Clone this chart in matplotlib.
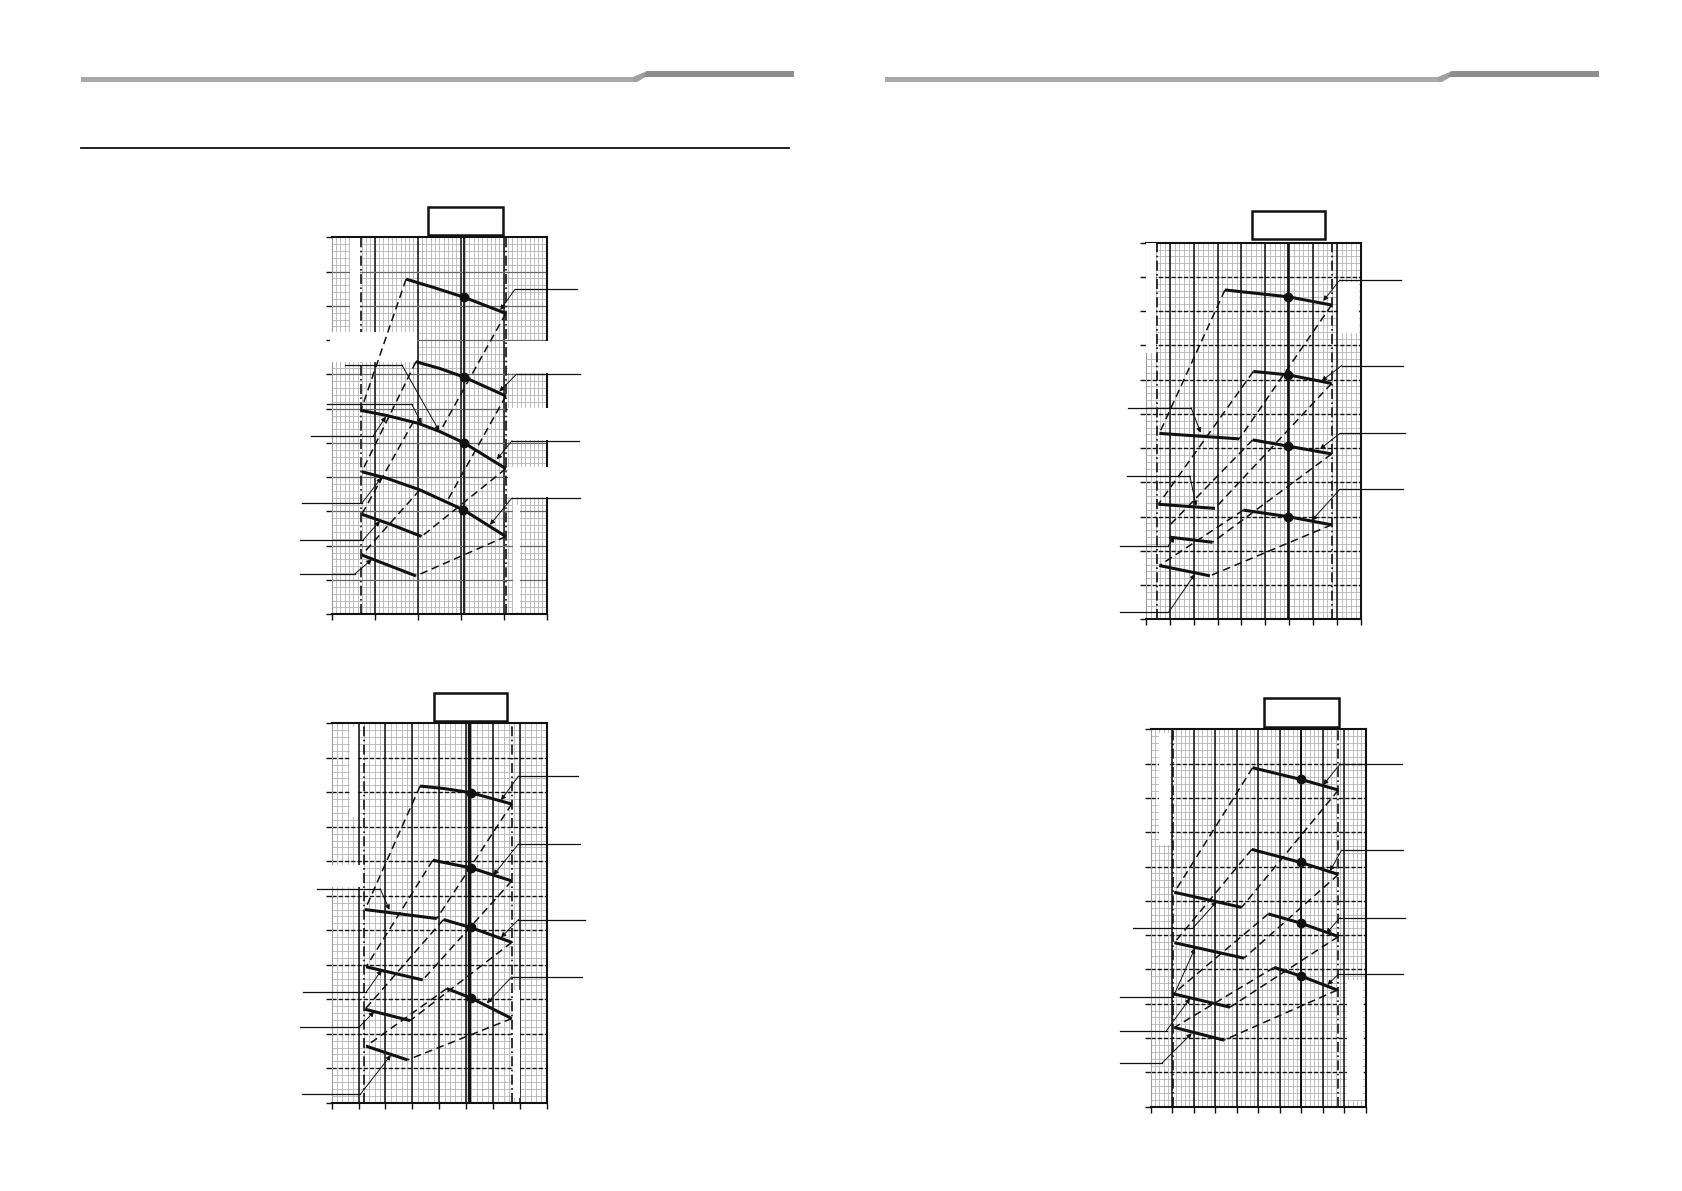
import numpy as np
import matplotlib
matplotlib.use("Agg")
import matplotlib.pyplot as plt
from matplotlib.patches import Rectangle, Polygon

W, H = 1683, 1191

# ---------------- data (grid units: x = major columns, y = major rows) ----------------
# chart 1 (top left)
c1_curves = [
    ([1.73, 2.36, 3.08, 4.05], [9.78, 9.54, 9.25, 8.78]),
    ([1.96, 2.52, 3.08, 4.05], [7.37, 7.17, 6.92, 6.37]),
    ([0.68, 1.28, 2.02, 2.52, 3.08, 4.05], [5.95, 5.80, 5.57, 5.33, 5.00, 4.25]),
    ([0.70, 1.28, 2.05, 3.06, 4.05], [4.16, 3.97, 3.63, 3.05, 2.27]),
    ([0.70, 1.36, 2.09], [2.92, 2.63, 2.27]),
    ([0.70, 1.96], [1.73, 1.12]),
]
c1_dots_x = [3.08, 3.08, 3.08, 3.06]
c1_dots_y = [9.25, 6.92, 5.00, 3.05]
c1_dashed = [
    ([1.73, 0.68], [9.78, 5.95]),
    ([4.05, 2.52], [8.78, 5.33]),
    ([1.96, 0.70], [7.37, 4.16]),
    ([4.05, 2.67], [6.37, 3.27]),
    ([1.90, 0.70], [5.62, 2.92]),
    ([4.05, 2.09], [4.25, 2.27]),
    ([2.05, 0.70], [3.63, 1.73]),
    ([4.05, 1.96], [2.27, 1.12]),
]
c1_limits = [0.68, 4.05]
c1_rated = 3.08
# leader lines: start, knee, arrow tip
c1_leaders = [
    ((5.70, 9.48), (4.26, 9.48), (3.92, 8.88)),
    ((5.78, 7.01), (4.30, 7.01), (3.90, 6.50)),
    ((5.74, 5.06), (4.19, 5.06), (3.84, 4.52)),
    ((5.78, 3.39), (4.19, 3.39), (3.68, 2.61)),
    ((0.31, 7.28), (1.63, 7.28), (2.50, 5.35)),
    ((-0.12, 6.13), (1.86, 6.13), (2.09, 5.57)),
    ((-0.47, 5.21), (0.97, 5.21), (1.26, 5.77)),
    ((-0.70, 3.24), (0.70, 3.24), (1.16, 3.99)),
    ((-0.74, 2.17), (0.73, 2.17), (1.12, 2.72)),
    ((-0.74, 1.18), (0.54, 1.18), (0.93, 1.60)),
]
# blanked areas of the scan (x0, y0, x1, y1)
c1_blank = [(0.43, 8.25, 0.66, 10.97), (-0.05, 7.37, 1.98, 8.25),
            (4.10, 7.03, 5.06, 7.96), (4.10, 5.09, 5.06, 6.01),
            (4.10, 3.43, 5.06, 4.31), (4.22, 0.08, 4.38, 3.19)]

# chart 2 (top right)
c2_curves = [
    ([3.31, 5.96, 7.78], [9.62, 9.42, 9.18]),
    ([4.50, 5.96, 7.78], [7.24, 7.14, 6.89]),
    ([4.47, 5.94, 7.78], [5.24, 5.06, 4.83]),
    ([4.08, 5.94, 7.78], [3.19, 3.00, 2.76]),
    ([0.56, 3.91], [5.43, 5.27]),
    ([0.52, 2.89], [3.36, 3.24]),
    ([0.98, 2.79], [2.40, 2.25]),
    ([0.56, 2.68], [1.57, 1.27]),
]
c2_dots_x = [5.96, 5.96, 5.94, 5.94]
c2_dots_y = [9.42, 7.14, 5.06, 3.00]
c2_dashed = [
    ([3.31, 0.56], [9.62, 5.43]), ([7.78, 3.91], [9.18, 5.27]),
    ([4.50, 0.52], [7.24, 3.36]), ([7.78, 2.89], [6.89, 3.24]),
    ([4.47, 0.94], [5.24, 2.71]), ([7.78, 2.79], [4.83, 2.25]),
    ([4.08, 0.56], [3.19, 1.57]), ([7.78, 2.68], [2.76, 1.27]),
]
c2_limits = [0.475, 7.78]
c2_rated = 5.96
c2_leaders = [
    ((10.71, 9.91), (8.13, 9.91), (7.43, 9.30)),
    ((10.78, 7.41), (8.20, 7.41), (7.36, 6.96)),
    ((10.85, 5.43), (8.13, 5.43), (7.29, 4.97)),
    ((10.78, 3.80), (8.13, 3.80), (6.94, 2.88)),
    ((-0.74, 6.18), (1.89, 6.18), (2.29, 5.45)),
    ((-0.81, 4.19), (1.84, 4.19), (2.10, 3.31)),
    ((-1.09, 2.15), (0.94, 2.15), (1.19, 2.40)),
    ((-1.09, 0.20), (0.94, 0.20), (2.05, 1.32)),
]
c2_blank = [(0.02, 7.77, 0.42, 10.98), (8.06, 8.35, 8.94, 9.86)]

# chart 3 (bottom left)
c3_curves = [
    ([3.29, 4.16, 5.17, 6.70], [9.18, 9.11, 8.99, 8.66]),
    ([3.76, 5.17, 6.70], [7.03, 6.81, 6.43]),
    ([1.24, 3.91], [5.60, 5.34]),
    ([4.16, 5.17, 6.70], [5.31, 5.08, 4.65]),
    ([4.28, 5.17, 6.70], [3.31, 3.04, 2.44]),
    ([1.28, 3.39], [3.94, 3.56]),
    ([1.24, 2.92], [2.71, 2.38]),
    ([1.28, 2.82], [1.64, 1.24]),
]
c3_dots_x = [5.17, 5.17, 5.17, 5.17]
c3_dots_y = [8.99, 6.81, 5.08, 3.04]
c3_dashed = [
    ([3.29, 1.24], [9.18, 5.60]), ([6.70, 3.91], [8.66, 5.34]),
    ([3.76, 1.28], [7.03, 3.94]), ([6.70, 3.39], [6.43, 3.56]),
    ([4.16, 1.24], [5.31, 2.71]), ([6.70, 2.92], [4.65, 2.38]),
    ([4.28, 1.28], [3.31, 1.64]), ([6.70, 2.82], [2.44, 1.24]),
]
c3_limits = [1.22, 6.70]
c3_rated = 5.12
c3_leaders = [
    ((9.18, 9.47), (6.95, 9.47), (6.30, 8.77)),
    ((9.24, 7.50), (6.95, 7.50), (6.02, 6.60)),
    ((9.43, 5.31), (6.95, 5.31), (6.30, 4.79)),
    ((9.31, 3.65), (6.70, 3.65), (5.77, 2.88)),
    ((-0.56, 6.21), (1.80, 6.21), (2.15, 5.59)),
    ((-1.06, 3.20), (1.28, 3.20), (1.86, 3.85)),
    ((-1.18, 2.20), (1.03, 2.20), (1.58, 2.64)),
    ((-1.12, 0.24), (1.06, 0.24), (2.20, 1.38)),
]
c3_blank = [(0.68, 8.29, 0.99, 10.9), (-0.05, 6.26, 1.18, 6.89), (6.76, 0.13, 7.01, 3.27)]

# chart 4 (bottom right)
c4_curves = [
    ([4.74, 6.98, 8.73], [9.88, 9.54, 9.23]),
    ([4.70, 6.98, 8.73], [7.50, 7.12, 6.77]),
    ([5.47, 6.98, 8.73], [5.62, 5.35, 4.96]),
    ([5.74, 6.98, 8.68], [4.06, 3.81, 3.40]),
    ([1.10, 4.23], [6.25, 5.81]),
    ([1.10, 4.34], [4.78, 4.33]),
    ([1.05, 3.69], [3.29, 2.90]),
    ([1.10, 3.41], [2.31, 1.94]),
]
c4_dots_x = [6.98, 6.98, 6.98, 6.98]
c4_dots_y = [9.54, 7.12, 5.35, 3.81]
c4_dashed = [
    ([4.74, 1.10], [9.88, 6.25]), ([8.73, 4.23], [9.23, 5.81]),
    ([4.70, 1.10], [7.50, 4.78]), ([8.73, 4.34], [6.77, 4.33]),
    ([5.47, 1.05], [5.62, 3.29]), ([8.73, 3.69], [4.96, 2.90]),
    ([5.74, 1.10], [4.06, 2.31]), ([8.68, 3.41], [3.40, 1.94]),
]
c4_limits = [1.02, 8.73]
c4_rated = 6.98
c4_leaders = [
    ((11.67, 9.99), (8.81, 9.99), (8.03, 9.38)),
    ((11.75, 7.48), (8.88, 7.48), (8.34, 6.87)),
    ((11.83, 5.51), (8.81, 5.51), (8.16, 5.05)),
    ((11.75, 3.86), (8.73, 3.86), (8.22, 3.55)),
    ((-0.81, 5.22), (1.98, 5.22), (3.07, 5.98)),
    ((-1.43, 3.21), (1.05, 3.21), (2.06, 4.62)),
    ((-1.43, 2.22), (0.74, 2.22), (1.83, 3.16)),
    ((-1.43, 1.26), (0.51, 1.26), (1.91, 2.14)),
]
c4_blank = [(0.40, 7.63, 0.90, 10.88), (9.12, 0.19, 9.86, 3.69)]

NROWS = 11


def px_box(l, t, r, b):
    return [l / W, 1 - b / H, (r - l) / W, (b - t) / H]


def draw_chart(fig, box, title_box, ncols, nminor_x, curves, dots_x, dots_y,
               dashed, limits, rated, leaders, blank, light_hmajor=False, thick_rated=False):
    ax = fig.add_axes(px_box(*box))
    ax.set_xlim(0, ncols)
    ax.set_ylim(0, NROWS)

    # minor grid
    xm = np.arange(0, ncols * nminor_x + 1) / nminor_x
    ym = np.arange(0, NROWS * 5 + 1) / 5
    ax.vlines(xm, 0, NROWS, color='#b4b4b4', lw=0.6, zorder=1)
    ax.hlines(ym, 0, ncols, color='#b4b4b4', lw=0.6, zorder=1)
    # major grid
    ax.vlines(np.arange(1, ncols), 0, NROWS, color='#111111', lw=1.1, zorder=2)
    if light_hmajor:
        ax.hlines(np.arange(1, NROWS), 0, ncols, color='#666666', lw=0.9, zorder=2)
    else:
        ax.hlines(np.arange(1, NROWS), 0, ncols, color='#111111', lw=1.0,
                  linestyles=(0, (3, 1.5)), zorder=2)

    # limit lines and rated airflow line
    for xv in limits:
        ax.axvline(xv, color='#111111', lw=1.2, ls=(0, (6, 2, 1, 2)), zorder=3)
    ax.axvline(rated, color='#111111', lw=2.4 if thick_rated else 1.3, zorder=3)

    # white-out areas where the printed labels were removed
    for x0, y0, x1, y1 in blank:
        ax.add_patch(Rectangle((x0, y0), x1 - x0, y1 - y0, facecolor='white',
                               edgecolor='none', zorder=3.5, clip_on=False))

    # dashed connections
    for xs, ys in dashed:
        ax.plot(xs, ys, color='#111111', lw=1.1, ls=(0, (5, 3)), zorder=4)
    # fan curves
    for xs, ys in curves:
        ax.plot(xs, ys, color='#111111', lw=2.2, solid_capstyle='butt', zorder=5)
    ax.plot(dots_x, dots_y, 'o', color='#111111', ms=6, zorder=6)

    # leader lines
    for start, knee, tip in leaders:
        ax.plot([start[0], knee[0]], [start[1], knee[1]], color='#111111',
                lw=0.9, clip_on=False, zorder=7)
        ax.annotate('', xy=tip, xytext=knee, annotation_clip=False,
                    arrowprops=dict(arrowstyle='-|>', lw=0.7, color='#111111',
                                    mutation_scale=7, shrinkA=0, shrinkB=0))

    ax.set_xticks(range(ncols + 1))
    ax.set_yticks(range(NROWS + 1))
    ax.set_xticklabels([])
    ax.set_yticklabels([])
    ax.tick_params(direction='out', length=4, width=1, color='#111111')
    for s in ['top', 'bottom', 'right']:
        ax.spines[s].set_linewidth(1.5)
        ax.spines[s].set_color('#111111')
        ax.spines[s].set_zorder(3)
    ax.spines['left'].set_color('#999999')
    ax.spines['left'].set_linewidth(0.8)
    ax.spines['left'].set_zorder(3)

    l, t, r, b = title_box
    fig.patches.append(Rectangle((l / W, 1 - b / H), (r - l) / W, (b - t) / H,
                                 transform=fig.transFigure, fill=False,
                                 edgecolor='#111111', lw=1.8))
    return ax


fig = plt.figure(figsize=(W / 100, H / 100), dpi=100)
fig.patch.set_facecolor('white')

# page header bars
for x0, x1, x2 in [(80.5, 633, 794), (885.5, 1438, 1599)]:
    fig.patches.append(Polygon(
        [(x0 / W, 1 - 77 / H), (x1 / W, 1 - 77 / H), (x1 / W, 1 - 82 / H), (x0 / W, 1 - 82 / H)],
        closed=True, transform=fig.transFigure, facecolor='#a9a9a9', edgecolor='none'))
    fig.patches.append(Polygon(
        [(x1 / W, 1 - 77 / H), (x1 / W, 1 - 82 / H), ((x1 + 4) / W, 1 - 82 / H),
         ((x1 + 14) / W, 1 - 76 / H), ((x1 + 14) / W, 1 - 71 / H)],
        closed=True, transform=fig.transFigure, facecolor='#a0a0a0', edgecolor='none'))
    fig.patches.append(Polygon(
        [((x1 + 14) / W, 1 - 71 / H), (x2 / W, 1 - 71 / H), (x2 / W, 1 - 77 / H), ((x1 + 10) / W, 1 - 77 / H)],
        closed=True, transform=fig.transFigure, facecolor='#8e8e8e', edgecolor='none'))
fig.add_artist(plt.Line2D([80.5 / W, 789 / W], [1 - 148 / H, 1 - 148 / H],
                          transform=fig.transFigure, color='#111111', lw=1.3))

draw_chart(fig, (331.7, 237.3, 546.7, 614.3), (428, 206.7, 503, 235), 5, 10,
           c1_curves, c1_dots_x, c1_dots_y, c1_dashed, c1_limits, c1_rated,
           c1_leaders, c1_blank, light_hmajor=True)
draw_chart(fig, (1146, 242.7, 1360.7, 619.3), (1251.7, 211, 1325, 239), 9, 5,
           c2_curves, c2_dots_x, c2_dots_y, c2_dashed, c2_limits, c2_rated,
           c2_leaders, c2_blank)
draw_chart(fig, (331.7, 723.3, 546.7, 1102.7), (434.3, 692.7, 507.3, 721), 8, 5,
           c3_curves, c3_dots_x, c3_dots_y, c3_dashed, c3_limits, c3_rated,
           c3_leaders, c3_blank, thick_rated=True)
draw_chart(fig, (1150.7, 729.3, 1365.7, 1106.7), (1264, 698.3, 1339.3, 726.7), 10, 5,
           c4_curves, c4_dots_x, c4_dots_y, c4_dashed, c4_limits, c4_rated,
           c4_leaders, c4_blank)

fig.savefig('out.png', dpi=100)
